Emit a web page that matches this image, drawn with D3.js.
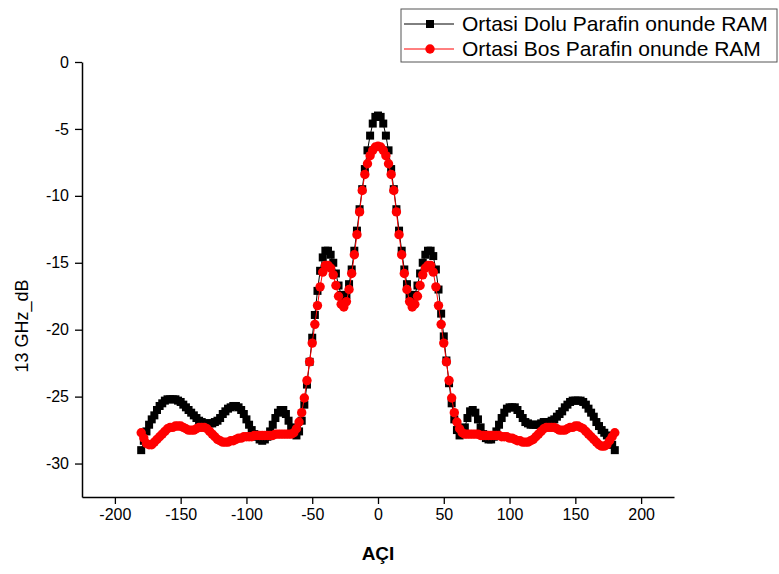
<!DOCTYPE html>
<html>
<head>
<meta charset="utf-8">
<script src="https://cdn.jsdelivr.net/npm/d3@7"></script>
<style>
  body { margin: 0; background: #fff; }
  text { font-family: Arial, "Liberation Sans", sans-serif; }
</style>
</head>
<body>
<svg id="chart" width="779" height="574"></svg>
<script>
// angles, -180..180 every 2 degrees
var angles = d3.range(-180, 181, 2);

// Ortasi Dolu Parafin onunde RAM
var dolu = [
  -29.0, -28.3, -27.6, -27.1, -26.7, -26.4, -26.0, -25.7, -25.5, -25.3,
  -25.2, -25.2, -25.2, -25.2, -25.3, -25.4, -25.6, -25.8, -26.0, -26.2,
  -26.4, -26.6, -26.8, -26.9, -27.0, -27.0, -27.0, -27.0, -26.9, -26.8,
  -26.6, -26.3, -26.1, -25.9, -25.8, -25.7, -25.7, -25.8, -26.0, -26.3,
  -26.7, -27.1, -27.5, -27.8, -28.0, -28.2, -28.3, -28.2, -28.0, -27.6,
  -27.1, -26.6, -26.2, -26.0, -26.0, -26.3, -26.8, -27.3, -27.7, -27.9,
  -27.6, -26.8, -25.6, -24.1, -22.4, -20.6, -18.9, -17.1, -15.6, -14.6,
  -14.1, -14.1, -14.4, -15.0, -15.8, -16.7, -17.4, -17.7, -17.4, -16.6,
  -15.5, -14.1, -12.6, -11.0, -9.5, -8.0, -6.6, -5.5, -4.6, -4.1,
  -4.0,
  -4.1, -4.6, -5.5, -6.6, -8.0, -9.5, -11.0, -12.6, -14.1, -15.5,
  -16.6, -17.4, -17.7, -17.4, -16.7, -15.8, -15.0, -14.4, -14.1, -14.1,
  -14.5, -15.5, -17.0, -18.8, -20.5, -22.3, -24.0, -25.5, -26.7, -27.5,
  -27.9, -27.8, -27.3, -26.6, -26.1, -26.0, -26.2, -26.7, -27.3, -27.8,
  -28.1, -28.2, -28.2, -28.0, -27.6, -27.1, -26.6, -26.2, -25.9, -25.8,
  -25.8, -25.8, -26.0, -26.3, -26.6, -26.9, -27.0, -27.1, -27.1, -27.1,
  -27.1, -27.0, -26.9, -26.9, -26.9, -26.8, -26.7, -26.5, -26.3, -26.1,
  -25.8, -25.6, -25.4, -25.3, -25.3, -25.3, -25.3, -25.4, -25.6, -25.9,
  -26.2, -26.5, -26.9, -27.2, -27.5, -27.7, -27.9, -28.2, -28.6, -29.0
];

// Ortasi Bos Parafin onunde RAM
var bos = [
  -27.7, -28.1, -28.5, -28.6, -28.6, -28.4, -28.2, -28.0, -27.8, -27.6,
  -27.4, -27.3, -27.3, -27.2, -27.2, -27.2, -27.3, -27.4, -27.5, -27.5,
  -27.5, -27.4, -27.3, -27.3, -27.3, -27.4, -27.6, -27.8, -28.0, -28.2,
  -28.3, -28.4, -28.4, -28.4, -28.3, -28.3, -28.2, -28.1, -28.1, -28.0,
  -28.0, -28.0, -28.0, -27.9, -27.9, -27.9, -27.9, -27.9, -27.9, -27.9,
  -27.9, -27.8, -27.8, -27.8, -27.8, -27.8, -27.8, -27.8, -27.7, -27.4,
  -26.9, -26.2, -25.1, -23.8, -22.4, -21.0, -19.6, -18.2, -16.8, -15.7,
  -15.2, -15.2, -15.4, -15.9, -16.7, -17.5, -18.1, -18.3, -17.9, -17.0,
  -15.8, -14.4, -12.9, -11.2, -9.6, -8.4, -7.6, -7.0, -6.6, -6.35,
  -6.3,
  -6.35, -6.6, -7.0, -7.6, -8.4, -9.6, -11.2, -12.9, -14.4, -15.8,
  -17.0, -17.9, -18.3, -18.1, -17.5, -16.7, -15.9, -15.4, -15.2, -15.2,
  -15.7, -16.8, -18.2, -19.6, -21.0, -22.4, -23.8, -25.1, -26.2, -26.9,
  -27.4, -27.7, -27.8, -27.8, -27.8, -27.8, -27.8, -27.8, -27.9, -27.9,
  -27.9, -27.9, -27.9, -27.9, -27.9, -27.9, -28.0, -28.0, -28.0, -28.1,
  -28.1, -28.2, -28.3, -28.3, -28.4, -28.4, -28.4, -28.3, -28.2, -28.0,
  -27.8, -27.6, -27.4, -27.3, -27.3, -27.3, -27.3, -27.4, -27.5, -27.5,
  -27.5, -27.4, -27.3, -27.3, -27.2, -27.2, -27.3, -27.4, -27.6, -27.8,
  -28.0, -28.2, -28.4, -28.6, -28.7, -28.7, -28.6, -28.3, -28.0, -27.7
];

var xMajor = [-200, -150, -100, -50, 0, 50, 100, 150, 200];
var xMinor = d3.range(-225, 226, 25);
var yMajor = [0, -5, -10, -15, -20, -25, -30];
var yMinor = d3.range(0, -32.6, -2.5);

var legendNames = ['Ortasi Dolu Parafin onunde RAM', 'Ortasi Bos Parafin onunde RAM'];

var svg = d3.select('#chart');

var x = d3.scaleLinear().domain([-225, 225]).range([82, 674]);
var y = d3.scaleLinear().domain([-32.5, 0]).range([497, 62]);

// plain hyphen for negatives, like the original
var fmt = function(d){ return String(d); };

// axes
var gx = svg.append('g').attr('transform', 'translate(0,497)');
gx.call(d3.axisBottom(x).tickValues(xMinor).tickFormat('').tickSize(4).tickSizeOuter(0));
gx.call(d3.axisBottom(x).tickValues(xMajor).tickFormat(fmt).tickSize(7).tickSizeOuter(0).tickPadding(5));

var gy = svg.append('g').attr('transform', 'translate(82,0)');
gy.call(d3.axisLeft(y).tickValues(yMinor).tickFormat('').tickSize(4).tickSizeOuter(0));
gy.call(d3.axisLeft(y).tickValues(yMajor).tickFormat(fmt).tickSize(7).tickSizeOuter(0).tickPadding(6));

svg.selectAll('.domain').attr('stroke', '#000').attr('stroke-width', 1.5);
svg.selectAll('.tick line').attr('stroke', '#000').attr('stroke-width', 1.3);
svg.selectAll('.tick text')
  .attr('fill', '#000')
  .style('font-size', '16px')
  .style('font-family', 'Arial, "Liberation Sans", sans-serif');

// axis titles
svg.append('text')
  .attr('x', 378)
  .attr('y', 560)
  .attr('text-anchor', 'middle')
  .style('font-size', '19px')
  .style('font-weight', 'bold')
  .text('AÇI');

svg.append('text')
  .attr('transform', 'translate(28,' + 326 + ') rotate(-90)')
  .attr('text-anchor', 'middle')
  .style('font-size', '18px')
  .text('13 GHz_dB');

// series
var line = d3.line()
  .x(function(d, i){ return x(angles[i]); })
  .y(function(d){ return y(d); });

svg.append('path')
  .datum(dolu)
  .attr('fill', 'none')
  .attr('stroke', '#000')
  .attr('stroke-width', 1)
  .attr('d', line);

svg.append('g').selectAll('rect')
  .data(dolu)
  .enter().append('rect')
  .attr('x', function(d, i){ return x(angles[i]) - 4; })
  .attr('y', function(d){ return y(d) - 4; })
  .attr('width', 8)
  .attr('height', 8)
  .attr('fill', '#000');

svg.append('path')
  .datum(bos)
  .attr('fill', 'none')
  .attr('stroke', '#f00')
  .attr('stroke-width', 1)
  .attr('d', line);

svg.append('g').selectAll('circle')
  .data(bos)
  .enter().append('circle')
  .attr('cx', function(d, i){ return x(angles[i]); })
  .attr('cy', function(d){ return y(d); })
  .attr('r', 4.7)
  .attr('fill', '#f00');

// legend
var legend = svg.append('g');

legend.append('rect')
  .attr('x', 401)
  .attr('y', 9)
  .attr('width', 376)
  .attr('height', 53)
  .attr('fill', '#fff')
  .attr('stroke', '#555')
  .attr('stroke-width', 1);

var rows = legend.selectAll('.row')
  .data(legendNames)
  .enter().append('g')
  .attr('class', 'row')
  .attr('transform', function(d, i){ return 'translate(0,' + (24 + i * 25) + ')'; });

rows.append('line')
  .attr('x1', 404)
  .attr('x2', 454)
  .attr('stroke', function(d, i){ return i == 0 ? '#000' : '#f00'; })
  .attr('stroke-width', 1);

rows.append('path')
  .attr('transform', 'translate(430,0)')
  .attr('fill', function(d, i){ return i == 0 ? '#000' : '#f00'; })
  .attr('d', function(d, i){
    if (i == 0) {
      return d3.symbol().type(d3.symbolSquare).size(64)();
    } else {
      return d3.symbol().type(d3.symbolCircle).size(Math.PI * 4.7 * 4.7)();
    }
  });

rows.append('text')
  .attr('x', 462)
  .attr('dy', '.35em')
  .style('font-size', '21px')
  .text(function(d){ return d; });
</script>
</body>
</html>
